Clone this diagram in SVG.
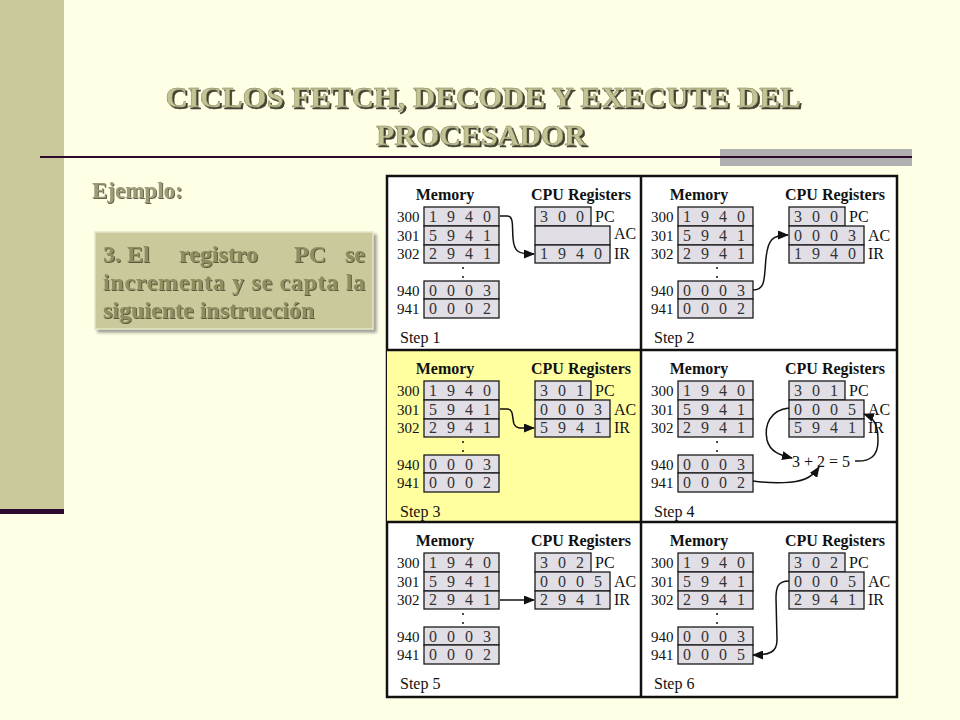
<svg xmlns="http://www.w3.org/2000/svg" width="960" height="720" viewBox="0 0 960 720">
<defs>
<style>
.cell{fill:#E1DEE6;stroke:#1a1a1a;stroke-width:1.3}
.hd{font-family:"Liberation Serif",serif;font-weight:bold;font-size:16px;text-anchor:middle;fill:#111}
.d{font-family:"Liberation Serif",serif;font-size:16px;text-anchor:middle;fill:#333}
.ad{font-family:"Liberation Serif",serif;font-size:15px;fill:#111}
.lb{font-family:"Liberation Serif",serif;font-size:16px;fill:#111}
.arr{fill:none;stroke:#111;stroke-width:1.5;marker-end:url(#ah)}
.ttl{font-family:"Liberation Serif",serif;font-weight:bold;font-size:30px;text-anchor:middle;fill:#C3C394;stroke:#7A7A58;stroke-width:0.4;filter:url(#sh)}
.cal{font-family:"Liberation Serif",serif;font-weight:bold;font-size:24px;fill:#8E8E60;filter:url(#sh2)}
</style>
<filter id="sh" x="-5%" y="-20%" width="110%" height="140%">
<feDropShadow dx="2" dy="2" stdDeviation="0.6" flood-color="#2F2F1E" flood-opacity="0.9"/>
</filter>
<filter id="sh2" x="-5%" y="-20%" width="110%" height="140%">
<feDropShadow dx="1" dy="1" stdDeviation="0.5" flood-color="#3A3A28" flood-opacity="0.8"/>
</filter>
<filter id="bx" x="-5%" y="-5%" width="115%" height="120%">
<feDropShadow dx="3" dy="3" stdDeviation="1.5" flood-color="#777" flood-opacity="0.7"/>
</filter>
<marker id="ah" markerUnits="userSpaceOnUse" markerWidth="11" markerHeight="9" refX="10" refY="4.5" orient="auto">
<path d="M0,0 L11,4.5 L0,9 z" fill="#111"/>
</marker>
</defs>
<rect x="0" y="0" width="960" height="720" fill="#FFFFE6"/>
<g id="sidebar">
<rect x="0" y="0" width="64" height="510" fill="#C9C99B"/>
<rect x="0" y="509" width="64" height="5" fill="#2E0A2E"/>
</g>
<g id="title">
<text class="ttl" x="483" y="107" textLength="635" lengthAdjust="spacingAndGlyphs">CICLOS  FETCH, DECODE Y EXECUTE DEL</text>
<text class="ttl" x="481" y="145">PROCESADOR</text>
</g>
<g id="rule">
<rect x="720" y="149" width="192" height="17" fill="#B0B0B0"/>
<rect x="40" y="156" width="872" height="2" fill="#2E0A2E"/>
</g>
<g id="ejemplo">
<text x="92" y="198" font-family="Liberation Serif, serif" font-weight="bold" font-size="23" fill="#9C9C76" filter="url(#sh2)">Ejemplo:</text>
</g>
<g id="callout">
<rect x="95" y="232" width="278" height="97" fill="#C9C99B" stroke="#E4E4C6" stroke-width="1.5" filter="url(#bx)"/>
<text class="cal" x="103" y="262">3. El</text>
<text class="cal" x="179" y="262">registro</text>
<text class="cal" x="294" y="262">PC</text>
<text class="cal" x="365" y="262" text-anchor="end">se</text>
<text class="cal" x="103" y="290" textLength="262" lengthAdjust="spacing">incrementa  y se capta la</text>
<text class="cal" x="103" y="318">siguiente instrucción</text>
</g>
<g id="frame">
<rect x="387" y="176" width="510" height="521" fill="#FFFFFF" stroke="#111" stroke-width="2.5"/>
<rect x="387" y="350" width="254" height="172" fill="#FFFFA0"/>
<line x1="641" y1="176" x2="641" y2="697" stroke="#111" stroke-width="2.5"/>
<line x1="387" y1="350" x2="897" y2="350" stroke="#111" stroke-width="2.5"/>
<line x1="387" y1="522" x2="897" y2="522" stroke="#111" stroke-width="2.5"/>
</g>
<g id="step1" transform="translate(387,176)">
<text class="hd" x="58" y="24">Memory</text>
<text class="hd" x="194" y="24">CPU Registers</text>
<text class="ad" x="10" y="46">300</text><text class="ad" x="10" y="65">301</text><text class="ad" x="10" y="83">302</text>
<text class="ad" x="10" y="120">940</text><text class="ad" x="10" y="138">941</text>
<rect class="cell" x="37" y="31" width="75" height="19"/><rect class="cell" x="37" y="50" width="75" height="19"/><rect class="cell" x="37" y="69" width="75" height="18"/>
<rect class="cell" x="37" y="105" width="75" height="18"/><rect class="cell" x="37" y="123" width="75" height="19"/>
<text class="d" x="46 64 82 100" y="46">1940</text><text class="d" x="46 64 82 100" y="65">5941</text><text class="d" x="46 64 82 100" y="83">2941</text>
<text class="d" x="46 64 82 100" y="120">0003</text><text class="d" x="46 64 82 100" y="138">0002</text>
<circle cx="76" cy="92" r="1" fill="#111"/><circle cx="76" cy="101" r="1" fill="#111"/>
<rect class="cell" x="148" y="31" width="56" height="19"/><rect class="cell" x="148" y="50" width="75" height="19"/><rect class="cell" x="148" y="69" width="75" height="18"/>
<text class="d" x="157 175 193" y="46">300</text>
<text class="d" x="157 175 193 211" y="83">1940</text>
<text class="lb" x="208" y="46">PC</text><text class="lb" x="227" y="63">AC</text><text class="lb" x="227" y="83">IR</text>
<text class="lb" x="13" y="167">Step 1</text>
</g>
<g id="step2" transform="translate(641,176)">
<text class="hd" x="58" y="24">Memory</text>
<text class="hd" x="194" y="24">CPU Registers</text>
<text class="ad" x="10" y="46">300</text><text class="ad" x="10" y="65">301</text><text class="ad" x="10" y="83">302</text>
<text class="ad" x="10" y="120">940</text><text class="ad" x="10" y="138">941</text>
<rect class="cell" x="37" y="31" width="75" height="19"/><rect class="cell" x="37" y="50" width="75" height="19"/><rect class="cell" x="37" y="69" width="75" height="18"/>
<rect class="cell" x="37" y="105" width="75" height="18"/><rect class="cell" x="37" y="123" width="75" height="19"/>
<text class="d" x="46 64 82 100" y="46">1940</text><text class="d" x="46 64 82 100" y="65">5941</text><text class="d" x="46 64 82 100" y="83">2941</text>
<text class="d" x="46 64 82 100" y="120">0003</text><text class="d" x="46 64 82 100" y="138">0002</text>
<circle cx="76" cy="92" r="1" fill="#111"/><circle cx="76" cy="101" r="1" fill="#111"/>
<rect class="cell" x="148" y="31" width="56" height="19"/><rect class="cell" x="148" y="50" width="75" height="19"/><rect class="cell" x="148" y="69" width="75" height="18"/>
<text class="d" x="157 175 193" y="46">300</text>
<text class="d" x="157 175 193 211" y="65">0003</text>
<text class="d" x="157 175 193 211" y="83">1940</text>
<text class="lb" x="208" y="46">PC</text><text class="lb" x="227" y="65">AC</text><text class="lb" x="227" y="83">IR</text>
<text class="lb" x="13" y="167">Step 2</text>
</g>
<g id="step3" transform="translate(387,350)">
<text class="hd" x="58" y="24">Memory</text>
<text class="hd" x="194" y="24">CPU Registers</text>
<text class="ad" x="10" y="46">300</text><text class="ad" x="10" y="65">301</text><text class="ad" x="10" y="83">302</text>
<text class="ad" x="10" y="120">940</text><text class="ad" x="10" y="138">941</text>
<rect class="cell" x="37" y="31" width="75" height="19"/><rect class="cell" x="37" y="50" width="75" height="19"/><rect class="cell" x="37" y="69" width="75" height="18"/>
<rect class="cell" x="37" y="105" width="75" height="18"/><rect class="cell" x="37" y="123" width="75" height="19"/>
<text class="d" x="46 64 82 100" y="46">1940</text><text class="d" x="46 64 82 100" y="65">5941</text><text class="d" x="46 64 82 100" y="83">2941</text>
<text class="d" x="46 64 82 100" y="120">0003</text><text class="d" x="46 64 82 100" y="138">0002</text>
<circle cx="76" cy="92" r="1" fill="#111"/><circle cx="76" cy="101" r="1" fill="#111"/>
<rect class="cell" x="148" y="31" width="56" height="19"/><rect class="cell" x="148" y="50" width="75" height="19"/><rect class="cell" x="148" y="69" width="75" height="18"/>
<text class="d" x="157 175 193" y="46">301</text>
<text class="d" x="157 175 193 211" y="65">0003</text>
<text class="d" x="157 175 193 211" y="83">5941</text>
<text class="lb" x="208" y="46">PC</text><text class="lb" x="227" y="65">AC</text><text class="lb" x="227" y="83">IR</text>
<text class="lb" x="13" y="167">Step 3</text>
</g>
<g id="step4" transform="translate(641,350)">
<text class="hd" x="58" y="24">Memory</text>
<text class="hd" x="194" y="24">CPU Registers</text>
<text class="ad" x="10" y="46">300</text><text class="ad" x="10" y="65">301</text><text class="ad" x="10" y="83">302</text>
<text class="ad" x="10" y="120">940</text><text class="ad" x="10" y="138">941</text>
<rect class="cell" x="37" y="31" width="75" height="19"/><rect class="cell" x="37" y="50" width="75" height="19"/><rect class="cell" x="37" y="69" width="75" height="18"/>
<rect class="cell" x="37" y="105" width="75" height="18"/><rect class="cell" x="37" y="123" width="75" height="19"/>
<text class="d" x="46 64 82 100" y="46">1940</text><text class="d" x="46 64 82 100" y="65">5941</text><text class="d" x="46 64 82 100" y="83">2941</text>
<text class="d" x="46 64 82 100" y="120">0003</text><text class="d" x="46 64 82 100" y="138">0002</text>
<circle cx="76" cy="92" r="1" fill="#111"/><circle cx="76" cy="101" r="1" fill="#111"/>
<rect class="cell" x="148" y="31" width="56" height="19"/><rect class="cell" x="148" y="50" width="75" height="19"/><rect class="cell" x="148" y="69" width="75" height="18"/>
<text class="d" x="157 175 193" y="46">301</text>
<text class="d" x="157 175 193 211" y="65">0005</text>
<text class="d" x="157 175 193 211" y="83">5941</text>
<text class="lb" x="208" y="46">PC</text><text class="lb" x="227" y="65">AC</text><text class="lb" x="227" y="83">IR</text>
<text class="lb" x="151" y="117">3 + 2 = 5</text>
<text class="lb" x="13" y="167">Step 4</text>
</g>
<g id="step5" transform="translate(387,522)">
<text class="hd" x="58" y="24">Memory</text>
<text class="hd" x="194" y="24">CPU Registers</text>
<text class="ad" x="10" y="46">300</text><text class="ad" x="10" y="65">301</text><text class="ad" x="10" y="83">302</text>
<text class="ad" x="10" y="120">940</text><text class="ad" x="10" y="138">941</text>
<rect class="cell" x="37" y="31" width="75" height="19"/><rect class="cell" x="37" y="50" width="75" height="19"/><rect class="cell" x="37" y="69" width="75" height="18"/>
<rect class="cell" x="37" y="105" width="75" height="18"/><rect class="cell" x="37" y="123" width="75" height="19"/>
<text class="d" x="46 64 82 100" y="46">1940</text><text class="d" x="46 64 82 100" y="65">5941</text><text class="d" x="46 64 82 100" y="83">2941</text>
<text class="d" x="46 64 82 100" y="120">0003</text><text class="d" x="46 64 82 100" y="138">0002</text>
<circle cx="76" cy="92" r="1" fill="#111"/><circle cx="76" cy="101" r="1" fill="#111"/>
<rect class="cell" x="148" y="31" width="56" height="19"/><rect class="cell" x="148" y="50" width="75" height="19"/><rect class="cell" x="148" y="69" width="75" height="18"/>
<text class="d" x="157 175 193" y="46">302</text>
<text class="d" x="157 175 193 211" y="65">0005</text>
<text class="d" x="157 175 193 211" y="83">2941</text>
<text class="lb" x="208" y="46">PC</text><text class="lb" x="227" y="65">AC</text><text class="lb" x="227" y="83">IR</text>
<text class="lb" x="13" y="167">Step 5</text>
</g>
<g id="step6" transform="translate(641,522)">
<text class="hd" x="58" y="24">Memory</text>
<text class="hd" x="194" y="24">CPU Registers</text>
<text class="ad" x="10" y="46">300</text><text class="ad" x="10" y="65">301</text><text class="ad" x="10" y="83">302</text>
<text class="ad" x="10" y="120">940</text><text class="ad" x="10" y="138">941</text>
<rect class="cell" x="37" y="31" width="75" height="19"/><rect class="cell" x="37" y="50" width="75" height="19"/><rect class="cell" x="37" y="69" width="75" height="18"/>
<rect class="cell" x="37" y="105" width="75" height="18"/><rect class="cell" x="37" y="123" width="75" height="19"/>
<text class="d" x="46 64 82 100" y="46">1940</text><text class="d" x="46 64 82 100" y="65">5941</text><text class="d" x="46 64 82 100" y="83">2941</text>
<text class="d" x="46 64 82 100" y="120">0003</text><text class="d" x="46 64 82 100" y="138">0005</text>
<circle cx="76" cy="92" r="1" fill="#111"/><circle cx="76" cy="101" r="1" fill="#111"/>
<rect class="cell" x="148" y="31" width="56" height="19"/><rect class="cell" x="148" y="50" width="75" height="19"/><rect class="cell" x="148" y="69" width="75" height="18"/>
<text class="d" x="157 175 193" y="46">302</text>
<text class="d" x="157 175 193 211" y="65">0005</text>
<text class="d" x="157 175 193 211" y="83">2941</text>
<text class="lb" x="208" y="46">PC</text><text class="lb" x="227" y="65">AC</text><text class="lb" x="227" y="83">IR</text>
<text class="lb" x="13" y="167">Step 6</text>
</g>
<g id="connectors">
<path class="arr" d="M500,216 L507,216 C514,216 512,226 513,238 C514,252 518,254 534,254"/>
<path class="arr" d="M753,290 C766,290 764,278 766,258 C768,240 772,235 788,235"/>
<path class="arr" d="M500,409 L507,409 C514,409 512,418 514,424 C516,429 521,428 534,428"/>
<path class="arr" d="M789,408 C770,410 764,425 767,440 C770,452 780,455 792,458"/>
<path class="arr" d="M753,481 C775,484 795,483 805,479 C810,477 815,473 819,467"/>
<path class="arr" d="M855,461 C870,462 878,456 878,441 C878,426 875,418 864,414"/>
<path class="arr" d="M500,600 L534,600"/>
<path class="arr" d="M789,581 C778,581 776,587 776,598 L777,640 C777,652 770,655 753,655"/>
</g>
</svg>
